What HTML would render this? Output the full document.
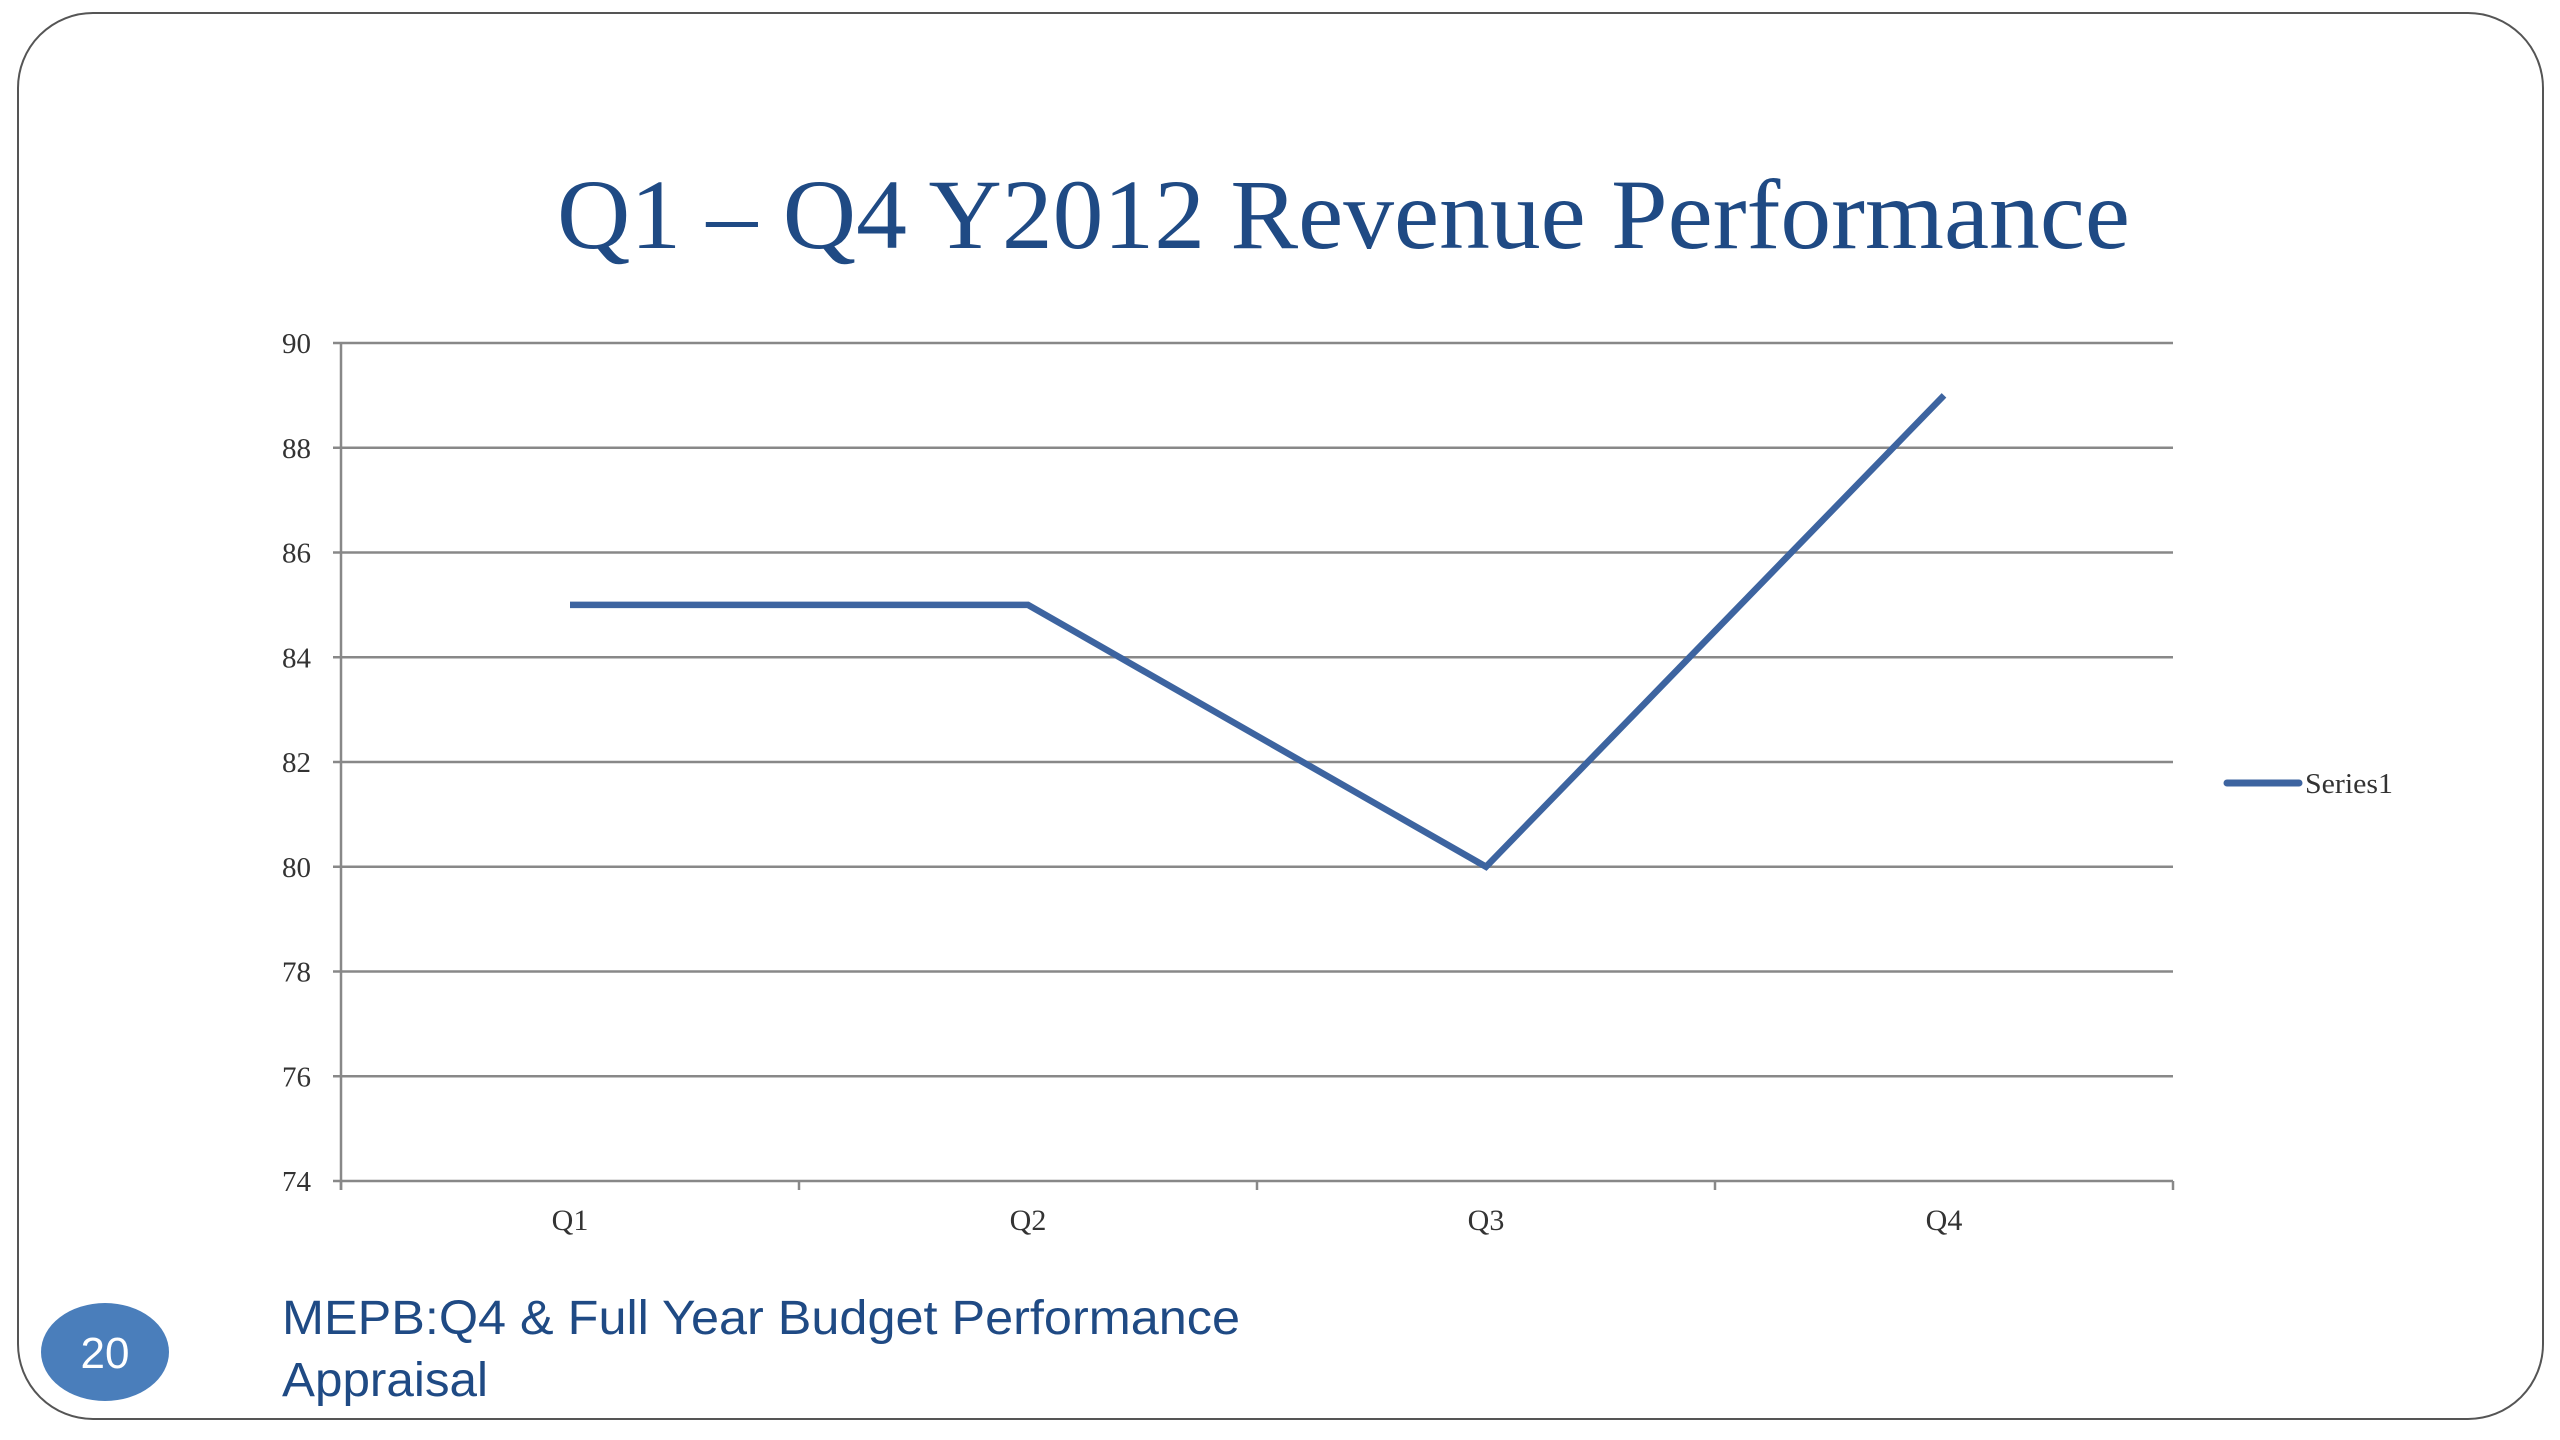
<!DOCTYPE html>
<html><head><meta charset="utf-8"><style>
html,body{margin:0;padding:0;background:#fff;}
svg{display:block;}
</style></head><body>
<svg id="slide" width="2560" height="1440" viewBox="0 0 2560 1440" xmlns="http://www.w3.org/2000/svg">
  <rect x="18" y="13" width="2525" height="1406" rx="75" ry="75" fill="#fff" stroke="#555" stroke-width="2"/>
  <text x="557" y="248" font-family="'Liberation Serif', serif" font-size="100" fill="#1f4a84" textLength="1573" lengthAdjust="spacingAndGlyphs">Q1 – Q4 Y2012 Revenue Performance</text>
  <g id="chart"></g>
  <g>
    <line x1="2227" y1="783" x2="2299" y2="783" stroke="#3d64a0" stroke-width="7" stroke-linecap="round"/>
    <text x="2305" y="793" font-family="'Liberation Serif', serif" font-size="29" fill="#333" textLength="88" lengthAdjust="spacingAndGlyphs">Series1</text>
  </g>
  <ellipse cx="105" cy="1352" rx="64" ry="49" fill="#4a7ebb"/>
  <text x="105" y="1368" text-anchor="middle" font-family="'Liberation Sans', sans-serif" font-size="44" fill="#fff">20</text>
  <text x="282" y="1334" font-family="'Liberation Sans', sans-serif" font-size="48" fill="#1f4a84" textLength="958" lengthAdjust="spacingAndGlyphs">MEPB:Q4 &amp; Full Year  Budget Performance</text>
  <text x="282" y="1396" font-family="'Liberation Sans', sans-serif" font-size="48" fill="#1f4a84" textLength="206" lengthAdjust="spacingAndGlyphs">Appraisal</text>
</svg>
<script>
const categories = ["Q1","Q2","Q3","Q4"];
const seriesValues = [85, 85, 80, 89];
const yTicks = [74,76,78,80,82,84,86,88,90];

const NS = "http://www.w3.org/2000/svg";
const chartG = document.getElementById("chart");
const plotLeft = 341, plotRight = 2173, plotTop = 343, plotBottom = 1181;
const yMin = 74, yMax = 90;
function yScale(v){ return plotBottom - (v - yMin) / (yMax - yMin) * (plotBottom - plotTop); }
const band = (plotRight - plotLeft) / categories.length;
function xScale(i){ return plotLeft + band * (i + 0.5); }
function mk(tag, attrs){ const e = document.createElementNS(NS, tag); for (const k in attrs) e.setAttribute(k, attrs[k]); chartG.appendChild(e); return e; }

yTicks.forEach(t => {
  const y = yScale(t);
  const ln = mk("line", {x1: plotLeft - 8, y1: y, x2: plotRight, y2: y, stroke: "#888", "stroke-width": 2.5});
  
  
  const tx = mk("text", {x: 311, y: y + 10, "text-anchor": "end", "font-family": "'Liberation Serif', serif", "font-size": 29, fill: "#333"});
  tx.textContent = t;
  
  
});
const yAxis = mk("line", {x1: plotLeft, y1: plotTop, x2: plotLeft, y2: plotBottom + 9, stroke: "#888", "stroke-width": 2.5});


for (let i = 0; i <= categories.length; i++) {
  const x = plotLeft + band * i;
  const tk = mk("line", {x1: x, y1: plotBottom, x2: x, y2: plotBottom + 9, stroke: "#888", "stroke-width": 2.5});
  
  
}
categories.forEach((c, i) => {
  const tx = mk("text", {x: xScale(i), y: 1230, "text-anchor": "middle", "font-family": "'Liberation Serif', serif", "font-size": 30, fill: "#333"});
  tx.textContent = c;
  
  
});
const pts = seriesValues.map((v, i) => xScale(i) + "," + yScale(v)).join(" ");
const seriesLine = mk("polyline", {points: pts, fill: "none", stroke: "#3d64a0", "stroke-width": 6.5, "stroke-linejoin": "miter"});


</script>
</body></html>
